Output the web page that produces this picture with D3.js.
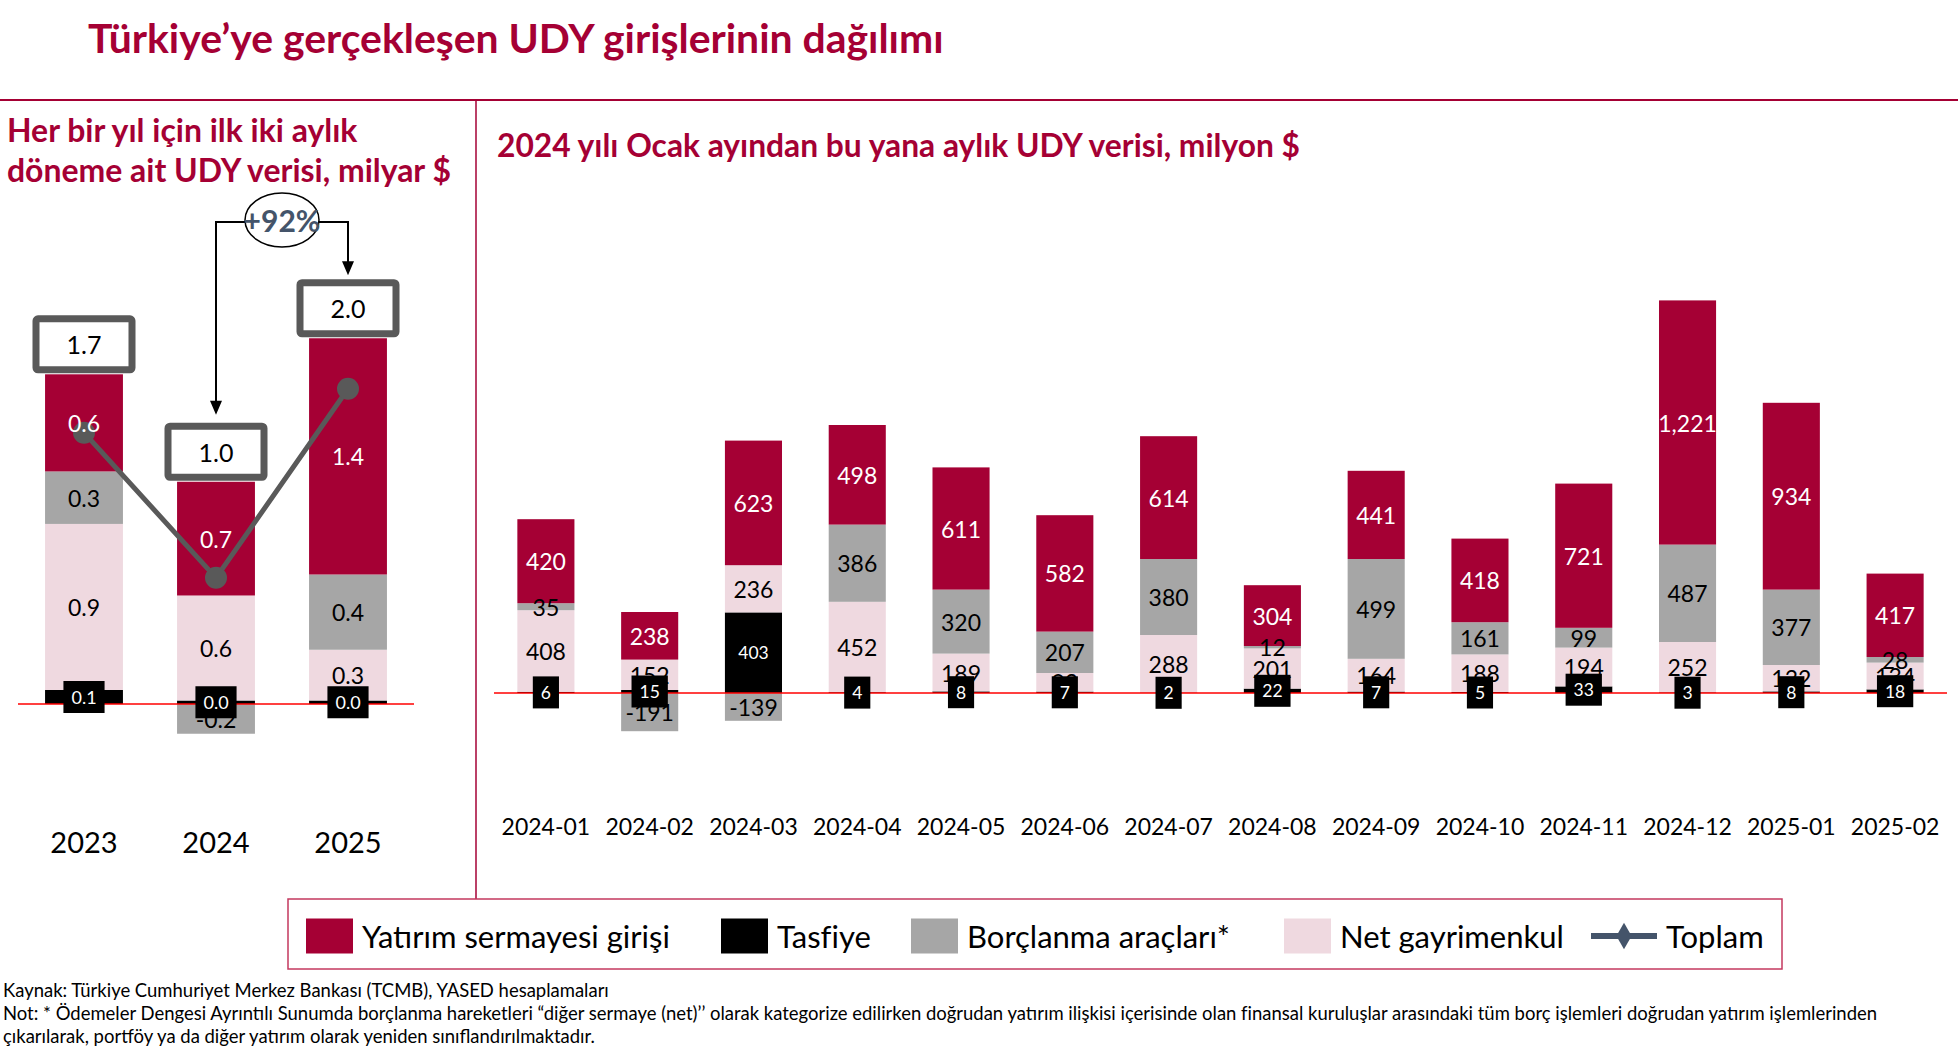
<!DOCTYPE html>
<html lang="tr">
<head>
<meta charset="utf-8">
<script src="https://cdn.jsdelivr.net/npm/d3@7"></script>
<style>
  body { margin: 0; background: #fff; }
  text { font-family: Lato, "Open Sans", sans-serif; }
</style>
</head>
<body>
<div id="chart"></div>
<script>
// ---- data: first two months of each year, billion $
const years = ['2023', '2024', '2025']
const yearEquity = [0.555, 0.65, 1.35]
const yearLiquidation = [0.08, 0.02, 0.02]
const yearDebt = [0.30, -0.17, 0.43]
const yearRealEstate = [0.949, 0.60, 0.29]
const yearTotal = [1.74, 0.98, 1.97]
const growthLabel = '+92%'

// ---- data: monthly since Jan 2024, million $
const months = ['2024-01', '2024-02', '2024-03', '2024-04', '2024-05', '2024-06', '2024-07',
  '2024-08', '2024-09', '2024-10', '2024-11', '2024-12', '2025-01', '2025-02']
const monthEquity = [420, 238, 623, 498, 611, 582, 614, 304, 441, 418, 721, 1221, 934, 417]
const monthLiquidation = [6, 15, 403, 4, 8, 7, 2, 22, 7, 5, 33, 3, 8, 18]
const monthDebt = [35, -191, -139, 386, 320, 207, 380, 12, 499, 161, 99, 487, 377, 28]
const monthRealEstate = [408, 152, 236, 452, 189, 93, 288, 201, 164, 188, 194, 252, 132, 134]

const legendLabels = ['Yatırım sermayesi girişi', 'Tasfiye', 'Borçlanma araçları*', 'Net gayrimenkul', 'Toplam']

const W = 1958, H = 1052
const crimson = '#a50034'
const keys = ['liquidation', 'realEstate', 'debt', 'equity']
const fill = { equity: crimson, liquidation: '#000000', debt: '#a6a6a6', realEstate: '#efd9e0' }
const ink = { equity: '#ffffff', liquidation: '#ffffff', debt: '#000000', realEstate: '#000000' }

const locale = d3.formatLocale({ decimal: '.', thousands: ',', grouping: [3], currency: ['$', ''], minus: '-' })
const fmtYear = locale.format('.1f')
const fmtMonth = locale.format(',d')

const svg = d3.select('#chart').append('svg')
  .attr('width', W)
  .attr('height', H)

svg.append('rect').attr('width', W).attr('height', H).attr('fill', '#fff')

// scale font so a text line fills the given width
function fitWidth(sel, width) {
  const size = parseFloat(sel.attr('font-size'))
  const len = sel.node().getComputedTextLength()
  sel.attr('font-size', size * width / len)
  return size * width / len
}

// ---- frame and titles
const title = svg.append('text')
  .attr('x', 88).attr('y', 53)
  .attr('font-size', 38).attr('font-weight', 700).attr('fill', crimson)
  .text('Türkiye’ye gerçekleşen UDY girişlerinin dağılımı')
fitWidth(title, 856)

svg.append('line')
  .attr('x1', 0).attr('x2', W).attr('y1', 100).attr('y2', 100)
  .attr('stroke', crimson).attr('stroke-width', 2)
svg.append('line')
  .attr('x1', 476).attr('x2', 476).attr('y1', 100).attr('y2', 899)
  .attr('stroke', crimson).attr('stroke-width', 1.5)

const sub1 = svg.append('text').attr('x', 7).attr('y', 142)
  .attr('font-size', 25).attr('font-weight', 700).attr('fill', crimson)
  .text('Her bir yıl için ilk iki aylık')
const sub2 = svg.append('text').attr('x', 7).attr('y', 182)
  .attr('font-size', 25).attr('font-weight', 700).attr('fill', crimson)
  .text('döneme ait UDY verisi, milyar $')
sub1.attr('font-size', fitWidth(sub2, 444))

const sub3 = svg.append('text').attr('x', 497).attr('y', 157)
  .attr('font-size', 25).attr('font-weight', 700).attr('fill', crimson)
  .text('2024 yılı Ocak ayından bu yana aylık UDY verisi, milyon $')
fitWidth(sub3, 803)

/**
 * Draws one stacked bar chart (diverging stack) with segment labels.
 */
function drawStack(g, rows, x, y, fmt, labelSize, boxSize) {
  const series = d3.stack().keys(keys).offset(d3.stackOffsetDiverging)(rows)
  const bw = x.bandwidth()

  g.append('g').selectAll('g')
    .data(series)
    .join('g')
    .attr('fill', s => fill[s.key])
    .selectAll('rect')
    .data(s => s)
    .join('rect')
    .attr('x', d => x(d.data.label))
    .attr('width', bw)
    .attr('y', d => y(Math.max(d[0], d[1])))
    .attr('height', d => Math.abs(y(d[0]) - y(d[1])))

  g.append('line')
    .attr('x1', x.range()[0]).attr('x2', x.range()[1])
    .attr('y1', y(0)).attr('y2', y(0))
    .attr('stroke', '#ff0000').attr('stroke-width', 1.5)

  const overlay = g.append('g')
  const labels = g.append('g')
  series.filter(s => s.key !== 'liquidation').forEach(s => {
    labels.append('g').selectAll('text')
      .data(s)
      .join('text')
      .attr('x', d => x(d.data.label) + bw / 2)
      .attr('y', d => (y(d[0]) + y(d[1])) / 2)
      .attr('text-anchor', 'middle')
      .attr('dominant-baseline', 'central')
      .attr('font-size', labelSize)
      .attr('fill', ink[s.key])
      .text(d => fmt(d.data[s.key]))
  })

  const liq = series.find(s => s.key === 'liquidation')
  const tags = g.append('g').selectAll('g')
    .data(liq)
    .join('g')
    .attr('transform', d => `translate(${x(d.data.label) + bw / 2},${(y(d[0]) + y(d[1])) / 2})`)
  tags.append('rect').attr('fill', '#000')
  tags.append('text')
    .attr('text-anchor', 'middle')
    .attr('dominant-baseline', 'central')
    .attr('font-size', boxSize)
    .attr('fill', '#fff')
    .text(d => fmt(d.data.liquidation))
  tags.each(function () {
    const t = d3.select(this).select('text').node().getComputedTextLength()
    d3.select(this).select('rect')
      .attr('x', -t / 2 - 8).attr('width', t + 16)
      .attr('y', -16).attr('height', 32)
  })
  return { series, overlay }
}

// ---- left chart: yearly
const yearRows = years.map((label, i) => ({
  label,
  equity: yearEquity[i],
  liquidation: yearLiquidation[i],
  debt: yearDebt[i],
  realEstate: yearRealEstate[i],
  total: yearTotal[i]
}))

const xL = d3.scaleBand().domain(years).range([18, 414]).paddingInner(0.41).paddingOuter(0.205)
const yL = d3.scaleLinear().domain([0, 2]).range([704, 354])
const yT = d3.scaleLinear().domain([0, 2]).range([765, 383])
const cL = d => xL(d.label) + xL.bandwidth() / 2

const left = svg.append('g')
const leftStack = drawStack(left, yearRows, xL, yL, fmtYear, 23, 18)

// total line under the labels
const lineG = leftStack.overlay
lineG.append('path')
  .datum(yearRows)
  .attr('fill', 'none')
  .attr('stroke', '#595959')
  .attr('stroke-width', 5)
  .attr('d', d3.line().x(cL).y(d => yT(d.total)))
lineG.selectAll('circle')
  .data(yearRows)
  .join('circle')
  .attr('cx', cL)
  .attr('cy', d => yT(d.total))
  .attr('r', 11)
  .attr('fill', '#595959')

// total boxes above each bar
const stackTop = d => d.equity + d.liquidation + d.realEstate + Math.max(d.debt, 0)
const boxW = 103, boxH = 58
const boxes = left.append('g').selectAll('g')
  .data(yearRows)
  .join('g')
  .attr('transform', d => `translate(${cL(d)},${yL(stackTop(d)) - 1 - boxH / 2})`)
boxes.append('rect')
  .attr('x', -boxW / 2 + 3.5).attr('y', -boxH / 2 + 3.5)
  .attr('width', boxW - 7).attr('height', boxH - 7)
  .attr('rx', 2)
  .attr('fill', '#fff').attr('stroke', '#595959').attr('stroke-width', 7)
boxes.append('text')
  .attr('text-anchor', 'middle')
  .attr('dominant-baseline', 'central')
  .attr('font-size', 25)
  .attr('fill', '#000')
  .text(d => fmtYear(d.total))

// growth annotation between 2024 and 2025
const from = yearRows[1], to = yearRows[2]
const ax1 = cL(from), ax2 = cL(to)
const ay = 222
const tip1 = yL(stackTop(from)) - 1 - boxH - 8
const tip2 = yL(stackTop(to)) - 1 - boxH - 4
const ann = left.append('g')
ann.append('path')
  .attr('fill', 'none').attr('stroke', '#000').attr('stroke-width', 2)
  .attr('d', `M${ax1},${tip1 - 12}V${ay}H${ax2}V${tip2 - 12}`)
const head = (x, y) => `M${x},${y}L${x - 6},${y - 14}L${x + 6},${y - 14}Z`
ann.append('path').attr('fill', '#000').attr('d', head(ax1, tip1) + head(ax2, tip2))
ann.append('ellipse')
  .attr('cx', (ax1 + ax2) / 2).attr('cy', ay - 2)
  .attr('rx', 37).attr('ry', 27)
  .attr('fill', '#fff').attr('stroke', '#000').attr('stroke-width', 1.5)
ann.append('text')
  .attr('x', (ax1 + ax2) / 2).attr('y', ay - 2)
  .attr('text-anchor', 'middle').attr('dominant-baseline', 'central')
  .attr('font-size', 30).attr('font-weight', 700).attr('fill', '#44546a')
  .text(growthLabel)

left.append('g').selectAll('text')
  .data(years)
  .join('text')
  .attr('x', d => xL(d) + xL.bandwidth() / 2)
  .attr('y', 853)
  .attr('text-anchor', 'middle')
  .attr('font-size', 29)
  .attr('fill', '#000')
  .text(d => d)

// ---- right chart: monthly
const monthRows = months.map((label, i) => ({
  label,
  equity: monthEquity[i],
  liquidation: monthLiquidation[i],
  debt: monthDebt[i],
  realEstate: monthRealEstate[i]
}))

const xR = d3.scaleBand().domain(months).range([494, 1947]).paddingInner(0.45).paddingOuter(0.225)
const yR = d3.scaleLinear().domain([0, 2000]).range([693, 293])

const right = svg.append('g')
drawStack(right, monthRows, xR, yR, fmtMonth, 23, 17.5)

right.append('g').selectAll('text')
  .data(months)
  .join('text')
  .attr('x', d => xR(d) + xR.bandwidth() / 2)
  .attr('y', 835)
  .attr('text-anchor', 'middle')
  .attr('font-size', 23)
  .attr('fill', '#000')
  .text(d => d)

// ---- legend
const legend = svg.append('g')
legend.append('rect')
  .attr('x', 288).attr('y', 899).attr('width', 1494).attr('height', 70)
  .attr('fill', '#fff').attr('stroke', '#c4385f').attr('stroke-width', 1.5)

const legendX = [306, 721, 911, 1284, 1591]
const legendFill = [fill.equity, fill.liquidation, fill.debt, fill.realEstate]
const ly = 936
legendLabels.forEach((label, i) => {
  const gx = legendX[i]
  let textX
  if (i < 4) {
    legend.append('rect')
      .attr('x', gx).attr('y', ly - 17.5).attr('width', 47).attr('height', 35)
      .attr('fill', legendFill[i])
    textX = gx + 56
  } else {
    legend.append('line')
      .attr('x1', gx).attr('x2', gx + 66).attr('y1', ly).attr('y2', ly)
      .attr('stroke', '#44546a').attr('stroke-width', 6)
    legend.append('path')
      .attr('d', d3.symbol(d3.symbolDiamond, 200)())
      .attr('transform', `translate(${gx + 33},${ly})`)
      .attr('fill', '#44546a')
    textX = gx + 75
  }
  legend.append('text')
    .attr('x', textX).attr('y', ly)
    .attr('dominant-baseline', 'central')
    .attr('font-size', 31)
    .attr('fill', '#000')
    .text(label)
})

// ---- notes
const notes = [
  'Kaynak: Türkiye Cumhuriyet Merkez Bankası (TCMB), YASED hesaplamaları',
  'Not: * Ödemeler Dengesi Ayrıntılı Sunumda borçlanma hareketleri “diğer sermaye (net)’’ olarak kategorize edilirken doğrudan yatırım ilişkisi içerisinde olan finansal kuruluşlar arasındaki tüm borç işlemleri doğrudan yatırım işlemlerinden',
  'çıkarılarak, portföy ya da diğer yatırım olarak yeniden sınıflandırılmaktadır.'
]
const noteText = svg.append('g').selectAll('text')
  .data(notes)
  .join('text')
  .attr('x', 3)
  .attr('y', (d, i) => 997 + i * 23)
  .attr('font-size', 14)
  .attr('fill', '#000')
  .text(d => d)
const noteSize = fitWidth(d3.select(noteText.nodes()[1]), 1875)
noteText.attr('font-size', noteSize)
</script>
</body>
</html>
